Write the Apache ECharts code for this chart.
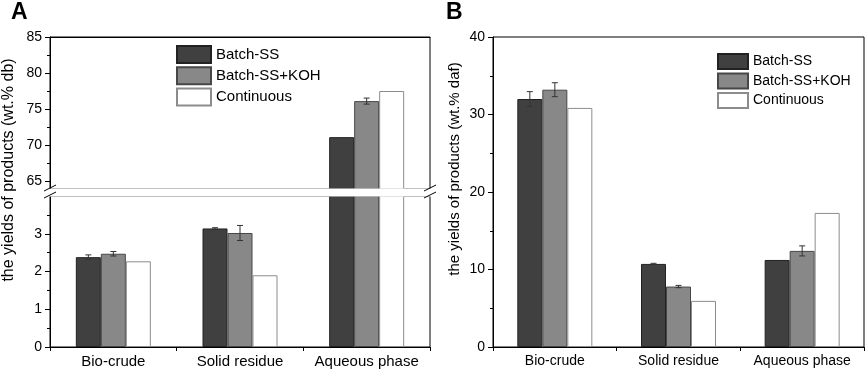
<!DOCTYPE html>
<html>
<head>
<meta charset="utf-8">
<script src="https://cdn.jsdelivr.net/npm/echarts@6/dist/echarts.min.js"></script>
<style>
  html, body { margin: 0; padding: 0; background: #fff; }
  #chart { width: 865px; height: 370px; }
</style>
</head>
<body>
<div id="chart"></div>
<script>
const categories = ['Bio-crude', 'Solid residue', 'Aqueous phase'];
const seriesNames = ['Batch-SS', 'Batch-SS+KOH', 'Continuous'];

// panel A, wt.% db
const batchA = [2.38, 3.14, 71.1];
const kohA = [2.47, 3.02, 76.1];
const contA = [2.27, 1.90, 77.5];
const batchErrA = [0.06, 0.02, 0];
const kohErrA = [0.06, 0.20, 0.42];
const contErrA = [0, 0, 0];

// panel B, wt.% daf
const batchB = [32.0, 10.72, 11.23];
const kohB = [33.2, 7.8, 12.4];
const contB = [30.85, 5.95, 17.3];
const batchErrB = [0.95, 0.08, 0];
const kohErrB = [0.9, 0.15, 0.65];
const contErrB = [0, 0, 0];

// broken axis of panel A
const upperMinA = 63.9;
const upperMaxA = 85;
const upperTicksA = [65, 70, 75, 80, 85];
const upperMinorA = [67.5, 72.5, 77.5, 82.5];
const lowerMaxA = 4;
const lowerTicksA = [0, 1, 2, 3];

const FONT = "'Liberation Sans', Arial, sans-serif";
const BAR_W = 25;
const colors = ['#404040', '#888888', '#ffffff'];
const borders = ['#222222', '#474747', '#8c8c8c'];

let myChart = echarts.init(document.getElementById('chart'));

function barSeries(xIdx, yIdx, arrays, keep) {
  return arrays.map((arr, k) => ({
    name: seriesNames[k],
    type: 'bar',
    xAxisIndex: xIdx,
    yAxisIndex: yIdx,
    barWidth: BAR_W,
    barGap: '0%',
    itemStyle: { color: colors[k], borderColor: borders[k], borderWidth: 1 },
    data: keep ? arr.map(v => (keep(v) ? v : '-')) : arr
  }));
}

function errorSeries(xIdx, yIdx, vals, errs, lo, hi) {
  const data = [];
  vals.forEach((arr, k) => {
    arr.forEach((v, i) => {
      if (errs[k][i] > 0 && v >= lo && v <= hi) data.push([i, v, errs[k][i], k]);
    });
  });
  return {
    type: 'custom',
    xAxisIndex: xIdx,
    yAxisIndex: yIdx,
    z: 5,
    data: data,
    renderItem: function (params, api) {
      const cat = api.value(0), v = api.value(1), e = api.value(2), k = api.value(3);
      const top = api.coord([cat, v + e]);
      const bot = api.coord([cat, v - e]);
      const x = top[0] + (k - 1) * BAR_W;
      const st = { stroke: '#333', lineWidth: 1 };
      return {
        type: 'group',
        children: [
          { type: 'line', shape: { x1: x, y1: top[1], x2: x, y2: bot[1] }, style: st },
          { type: 'line', shape: { x1: x - 3, y1: top[1], x2: x + 3, y2: top[1] }, style: st },
          { type: 'line', shape: { x1: x - 3, y1: bot[1], x2: x + 3, y2: bot[1] }, style: st }
        ]
      };
    }
  };
}

const lineStyle = { color: '#000', width: 1 };

function catAxis(gridIndex, fontSize) {
  return {
    gridIndex: gridIndex,
    type: 'category',
    data: categories,
    position: 'bottom',
    axisLine: { lineStyle: lineStyle },
    axisTick: { show: true, length: 4, lineStyle: lineStyle },
    axisLabel: { color: '#000', fontSize: fontSize, fontFamily: FONT, margin: 7, interval: 0 },
    splitLine: { show: false }
  };
}

function breakMark(x, y) {
  return {
    type: 'line',
    z: 101,
    shape: { x1: x - 6, y1: y + 3, x2: x + 6, y2: y - 3 },
    style: { stroke: '#000', lineWidth: 1 }
  };
}

const option = {
  animation: false,
  textStyle: { fontFamily: FONT },
  legend: [
    {
      data: seriesNames,
      orient: 'vertical',
      left: 171,
      top: 40,
      itemWidth: 34,
      itemHeight: 17,
      itemGap: 2.3,
      icon: 'rect',
      textStyle: { color: '#000', fontSize: 15, fontFamily: FONT },
      selectedMode: false
    },
    {
      data: seriesNames,
      orient: 'vertical',
      left: 712,
      top: 48,
      itemWidth: 30,
      itemHeight: 15,
      itemGap: 2.5,
      icon: 'rect',
      textStyle: { color: '#000', fontSize: 14, fontFamily: FONT },
      selectedMode: false
    }
  ],
  grid: [
    { left: 50, top: 37, width: 380, height: 152, show: true, borderColor: '#000', borderWidth: 1, backgroundColor: 'transparent' },
    { left: 50, top: 196, width: 380, height: 151, show: true, borderColor: '#000', borderWidth: 1, backgroundColor: 'transparent' },
    { left: 493, top: 37, width: 371, height: 310, show: true, borderColor: '#000', borderWidth: 1, backgroundColor: 'transparent' }
  ],
  xAxis: [
    {
      gridIndex: 0,
      type: 'category',
      data: categories,
      position: 'top',
      axisLine: { lineStyle: lineStyle },
      axisTick: { show: false },
      axisLabel: { show: false }
    },
    catAxis(1, 15),
    catAxis(2, 14)
  ],
  yAxis: [
    {
      gridIndex: 0,
      type: 'value',
      min: upperMinA,
      max: upperMaxA,
      axisLine: { show: true, lineStyle: lineStyle },
      axisTick: { show: true, length: 5, customValues: upperTicksA, lineStyle: lineStyle },
      axisLabel: { color: '#000', fontSize: 14, fontFamily: FONT, margin: 8, customValues: upperTicksA },
      splitLine: { show: false }
    },
    {
      // minor ticks of the upper segment, put on the left edge
      gridIndex: 0,
      type: 'value',
      position: 'right',
      offset: -380,
      min: upperMinA,
      max: upperMaxA,
      axisLine: { show: false },
      axisTick: { show: true, inside: true, length: 3, customValues: upperMinorA, lineStyle: lineStyle },
      axisLabel: { show: false },
      splitLine: { show: false }
    },
    {
      gridIndex: 1,
      type: 'value',
      min: 0,
      max: lowerMaxA,
      interval: 1,
      axisLine: { show: true, lineStyle: lineStyle },
      axisTick: { show: true, length: 5, customValues: lowerTicksA, lineStyle: lineStyle },
      minorTick: { show: true, splitNumber: 2, length: 3, lineStyle: lineStyle },
      axisLabel: { color: '#000', fontSize: 14, fontFamily: FONT, margin: 8, customValues: lowerTicksA },
      splitLine: { show: false }
    },
    {
      gridIndex: 2,
      type: 'value',
      min: 0,
      max: 40,
      interval: 10,
      axisLine: { show: true, lineStyle: lineStyle },
      axisTick: { show: true, length: 5, lineStyle: lineStyle },
      minorTick: { show: true, splitNumber: 2, length: 3, lineStyle: lineStyle },
      axisLabel: { color: '#000', fontSize: 14, fontFamily: FONT, margin: 8 },
      splitLine: { show: false }
    }
  ],
  series: [].concat(
    barSeries(0, 0, [batchA, kohA, contA], v => v >= upperMinA),
    barSeries(1, 2, [batchA, kohA, contA]),
    barSeries(2, 3, [batchB, kohB, contB]),
    [
      errorSeries(0, 0, [batchA, kohA, contA], [batchErrA, kohErrA, contErrA], upperMinA, upperMaxA),
      errorSeries(1, 2, [batchA, kohA, contA], [batchErrA, kohErrA, contErrA], 0, lowerMaxA),
      errorSeries(2, 3, [batchB, kohB, contB], [batchErrB, kohErrB, contErrB], 0, 40)
    ]
  ),
  graphic: [
    // gap of the broken axis
    { type: 'rect', z: 100, shape: { x: 44, y: 188.5, width: 392, height: 8 }, style: { fill: '#fff' } },
    breakMark(50, 188), breakMark(50, 195),
    breakMark(430, 188), breakMark(430, 195),
    {
      type: 'text', x: 11, y: 13, z: 100,
      style: { text: 'A', fontSize: 23, fontWeight: 'bold', fontFamily: FONT, fill: '#000', align: 'left', verticalAlign: 'middle', textAlign: 'left', textVerticalAlign: 'middle' }
    },
    {
      type: 'text', x: 446, y: 13, z: 100,
      style: { text: 'B', fontSize: 23, fontWeight: 'bold', fontFamily: FONT, fill: '#000', align: 'left', verticalAlign: 'middle', textAlign: 'left', textVerticalAlign: 'middle' }
    },
    {
      type: 'text', x: 9, y: 170, rotation: Math.PI / 2, z: 100,
      style: { text: 'the yields of products (wt.% db)', fontSize: 16, fontFamily: FONT, fill: '#000', align: 'center', verticalAlign: 'middle', textAlign: 'center', textVerticalAlign: 'middle' }
    },
    {
      type: 'text', x: 455, y: 169, rotation: Math.PI / 2, z: 100,
      style: { text: 'the yields of products (wt.% daf)', fontSize: 15, fontFamily: FONT, fill: '#000', align: 'center', verticalAlign: 'middle', textAlign: 'center', textVerticalAlign: 'middle' }
    }
  ]
};

myChart.setOption(option);
</script>
</body>
</html>
